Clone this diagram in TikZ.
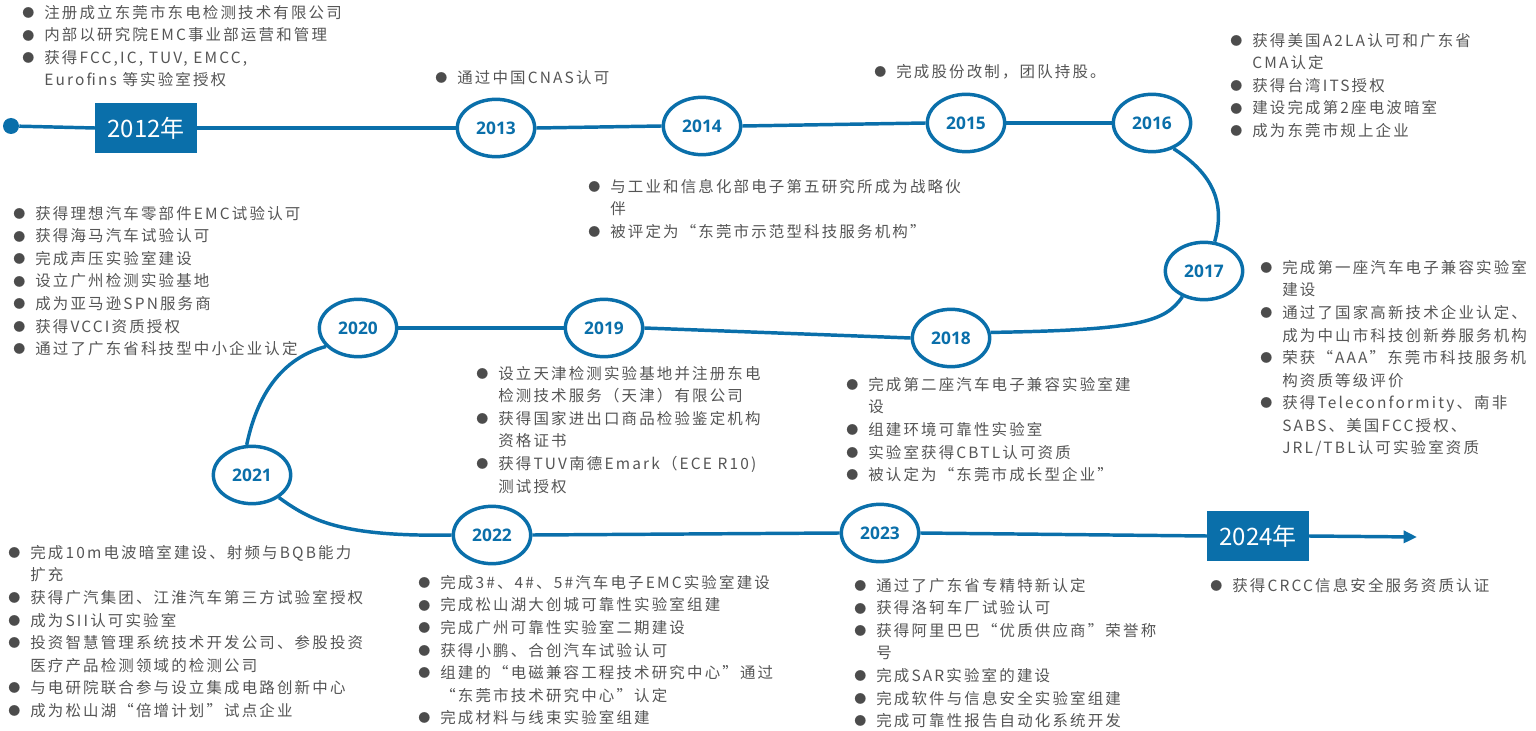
\documentclass[tikz,border=0pt]{standalone}
\usepackage{fontspec}
\setmainfont{Noto Sans CJK SC}
\newfontfamily\cjk[LetterSpace=14]{Noto Sans CJK SC}
\newfontfamily\yr{Open Sans}
\definecolor{tblue}{HTML}{0A6FAA}
\definecolor{tgray}{HTML}{555555}
\newcommand\bu{\makebox[16.5pt][l]{\raisebox{0.5pt}{\fontsize{9}{9}\selectfont\color{tgray!90!black}●}}}
\newcommand\ct{\hspace*{16.5pt}}
\tikzset{
 yrell/.style={ellipse,draw=tblue,line width=2.6pt,fill=white,minimum width=58pt,minimum height=43pt,inner sep=0pt,font=\yr\bfseries\fontsize{13}{13}\selectfont,text=tblue},
 yrbox/.style={fill=tblue,text=white,minimum width=76pt,minimum height=37pt,inner sep=0pt,font=\fontsize{18}{18}\selectfont},
 blk/.style={anchor=north west,inner sep=0pt,align=left,text=tgray,font=\cjk\fontsize{11.6}{16.9}\selectfont},
 tl/.style={draw=tblue,line width=2.6pt}
}
\usetikzlibrary{shapes.geometric,arrows.meta}
\begin{document}
\begin{tikzpicture}[x=0.75pt,y=-0.75pt]
\useasboundingbox (0,0) rectangle (1536,731);
\node[circle,fill=tblue,minimum size=12pt,inner sep=0pt] (dot) at (11,126) {};
\node[yrbox] (b12) at (146,128) {2012年};
\node[yrbox] (b24) at (1258,536) {2024年};
\node[yrell] (e13) at (496,128) {2013};
\node[yrell] (e14) at (702,126) {2014};
\node[yrell] (e15) at (966,123) {2015};
\node[yrell] (e16) at (1152,123) {2016};
\node[yrell] (e17) at (1204,271) {2017};
\node[yrell] (e18) at (951,338) {2018};
\node[yrell] (e19) at (604,328) {2019};
\node[yrell] (e20) at (358,328) {2020};
\node[yrell] (e21) at (252,475) {2021};
\node[yrell] (e22) at (492,535) {2022};
\node[yrell] (e23) at (880,533) {2023};
\coordinate (aend) at (1417,537);
\draw[tl] (dot) -- (b12.west);
\draw[tl] (b12.east) -- (e13.west);
\draw[tl] (e13.east) -- (e14.west);
\draw[tl] (e14.east) -- (e15.west);
\draw[tl] (e15.east) -- (e16.west);
\draw[tl] (e16.-50) .. controls (1215,175) and (1225,205) .. (e17.70);
\draw[tl] (e17.-130) .. controls (1165,322) and (1140,330) .. (e18.8);
\draw[tl] (e18.west) -- (e19.east);
\draw[tl] (e19.west) -- (e20.east);
\draw[tl] (e20.-150) .. controls (275,360) and (255,405) .. (e21.100);
\draw[tl] (e21.-40) .. controls (310,520) and (340,537) .. (e22.west);
\draw[tl] (e22.east) -- (e23.west);
\draw[tl] (e23.east) -- (b24.west);
\draw[tl,-{Triangle[length=10pt,width=9pt]}] (b24.east) -- (aend);

\node[blk] (tA) at (22,5) {\bu 注册成立东莞市东电检测技术有限公司\\\bu 内部以研究院EMC事业部运营和管理\\\bu 获得FCC,IC, TUV, EMCC,\\\ct Eurofins 等实验室授权};
\node[blk] (tB) at (435,70) {\bu 通过中国CNAS认可};
\node[blk] (tC) at (874,64) {\bu 完成股份改制，团队持股。};
\node[blk] (tD) at (1230,33) {\bu 获得美国A2LA认可和广东省\\\ct CMA认定\\\bu 获得台湾ITS授权\\\bu 建设完成第2座电波暗室\\\bu 成为东莞市规上企业};
\node[blk] (tE) at (588,179) {\bu 与工业和信息化部电子第五研究所成为战略伙\\\ct 伴\\\bu 被评定为“东莞市示范型科技服务机构”};
\node[blk] (tF) at (1260,260) {\bu 完成第一座汽车电子兼容实验室\\\ct 建设\\\bu 通过了国家高新技术企业认定、\\\ct 成为中山市科技创新券服务机构\\\bu 荣获“AAA”东莞市科技服务机\\\ct 构资质等级评价\\\bu 获得Teleconformity、南非\\\ct SABS、美国FCC授权、\\\ct JRL/TBL认可实验室资质};
\node[blk] (tG) at (13,206) {\bu 获得理想汽车零部件EMC试验认可\\\bu 获得海马汽车试验认可\\\bu 完成声压实验室建设\\\bu 设立广州检测实验基地\\\bu 成为亚马逊SPN服务商\\\bu 获得VCCI资质授权\\\bu 通过了广东省科技型中小企业认定};
\node[blk] (tH) at (476,366) {\bu 设立天津检测实验基地并注册东电\\\ct 检测技术服务（天津）有限公司\\\bu 获得国家进出口商品检验鉴定机构\\\ct 资格证书\\\bu 获得TUV南德Emark（ECE R10)\\\ct 测试授权};
\node[blk] (tI) at (846,377) {\bu 完成第二座汽车电子兼容实验室建\\\ct 设\\\bu 组建环境可靠性实验室\\\bu 实验室获得CBTL认可资质\\\bu 被认定为“东莞市成长型企业”};
\node[blk] (tJ) at (8,545) {\bu 完成10m电波暗室建设、射频与BQB能力\\\ct 扩充\\\bu 获得广汽集团、江淮汽车第三方试验室授权\\\bu 成为SII认可实验室\\\bu 投资智慧管理系统技术开发公司、参股投资\\\ct 医疗产品检测领域的检测公司\\\bu 与电研院联合参与设立集成电路创新中心\\\bu 成为松山湖“倍增计划”试点企业};
\node[blk] (tK) at (418,575) {\bu 完成3\#、4\#、5\#汽车电子EMC实验室建设\\\bu 完成松山湖大创城可靠性实验室组建\\\bu 完成广州可靠性实验室二期建设\\\bu 获得小鹏、合创汽车试验认可\\\bu 组建的“电磁兼容工程技术研究中心”通过\\\ct “东莞市技术研究中心”认定\\\bu 完成材料与线束实验室组建};
\node[blk] (tL) at (854,578) {\bu 通过了广东省专精特新认定\\\bu 获得洛轲车厂试验认可\\\bu 获得阿里巴巴“优质供应商”荣誉称\\\ct 号\\\bu 完成SAR实验室的建设\\\bu 完成软件与信息安全实验室组建\\\bu 完成可靠性报告自动化系统开发};
\node[blk] (tM) at (1210,578) {\bu 获得CRCC信息安全服务资质认证};
\end{tikzpicture}
\end{document}
